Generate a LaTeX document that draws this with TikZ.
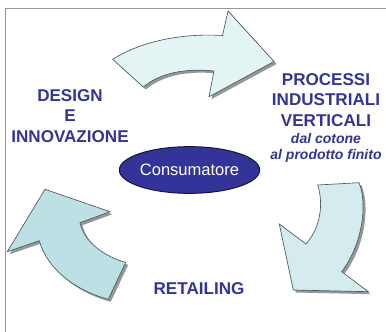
\documentclass[tikz,border=0pt]{standalone}
\usepackage{fontspec}
\setmainfont{Liberation Sans}
\usetikzlibrary{shapes.geometric}

\definecolor{titleblue}{RGB}{51,51,153}
\definecolor{arrowline}{RGB}{70,92,92}
\definecolor{shadowgray}{RGB}{150,150,150}
\definecolor{fillA}{RGB}{228,244,244}
\definecolor{fillB}{RGB}{212,236,238}
\definecolor{fillC}{RGB}{189,224,228}

\tikzset{every picture/.style={line width=0.75pt}}
\tikzset{
  bigarrow/.style={draw=arrowline, line width=0.5pt, line join=miter},
  arrowshadow/.style={fill=shadowgray, draw=none},
  steptext/.style={text=titleblue, font=\bfseries\fontsize{12.8}{15.6}\selectfont, align=center, inner sep=0.75pt},
}

\begin{document}
\begin{tikzpicture}[x=0.75pt,y=0.75pt,yscale=-1,xscale=1]
\useasboundingbox (0,0) rectangle (386,332);

%Frame
        \draw [color={rgb, 255:red, 150; green, 150; blue, 150 }, line width=0.75pt]  (5,332) -- (5,8.3) -- (386,8.3) ;

%Top arrow shadow
        \fill [arrowshadow, shift={(2.5,2.5)}]  (112.7,59.3) .. controls (140,42) and (180,33) .. (222.5,35.5) -- (228,11) -- (274,61.5) -- (209,96.7) -- (214,71) .. controls (185,68) and (160,73) .. (143.3,87) -- cycle ;
%Top arrow
        \draw [bigarrow, fill=fillA]  (112.7,59.3) .. controls (140,42) and (180,33) .. (222.5,35.5) -- (228,11) -- (274,61.5) -- (209,96.7) -- (214,71) .. controls (185,68) and (160,73) .. (143.3,87) -- cycle ;

%Right arrow shadow
        \fill [arrowshadow, shift={(2.5,2.5)}]  (317.7,185) -- (359,182.7) .. controls (368,205) and (362,245) .. (341.7,271.7) -- (368.3,291.7) -- (293.3,290) -- (279.3,224) -- (306,244) .. controls (320,228) and (324,205) .. (317.7,185) -- cycle ;
%Right arrow
        \draw [bigarrow, fill=fillB]  (317.7,185) -- (359,182.7) .. controls (368,205) and (362,245) .. (341.7,271.7) -- (368.3,291.7) -- (293.3,290) -- (279.3,224) -- (306,244) .. controls (320,228) and (324,205) .. (317.7,185) -- cycle ;

%Left arrow shadow
        \fill [arrowshadow, shift={(2.5,2.5)}]  (45,189.3) -- (110,211.7) -- (80,222.7) .. controls (84,242) and (105,257) .. (125.7,262.3) -- (108.3,299.3) .. controls (80,292) and (48,272) .. (39.3,240.7) -- (7.3,251.7) -- cycle ;
%Left arrow
        \draw [bigarrow, fill=fillC]  (45,189.3) -- (110,211.7) -- (80,222.7) .. controls (84,242) and (105,257) .. (125.7,262.3) -- (108.3,299.3) .. controls (80,292) and (48,272) .. (39.3,240.7) -- (7.3,251.7) -- cycle ;

% Ellipse Node
        \draw (189.5,170) node (consumatore) [ellipse, draw={rgb, 255:red, 20; green, 20; blue, 60 }, line width=0.75pt, fill=titleblue, minimum width=103.2pt, minimum height=35pt, inner sep=0pt, text=white, font=\fontsize{12.4}{14}\selectfont] {Consumatore};
% Text Node
        \draw (70,116) node (design) [steptext] {DESIGN\\E\\INNOVAZIONE};
% Text Node
        \draw (326,100) node (processi) [steptext] {PROCESSI\\INDUSTRIALI\\VERTICALI};
% Text Node
        \draw (326,148) node (cotone) [steptext, font=\bfseries\itshape\fontsize{10.5}{12.5}\selectfont] {dal cotone\\al prodotto finito};
% Text Node
        \draw (199,288.3) node (retailing) [steptext] {RETAILING};

\end{tikzpicture}
\end{document}
